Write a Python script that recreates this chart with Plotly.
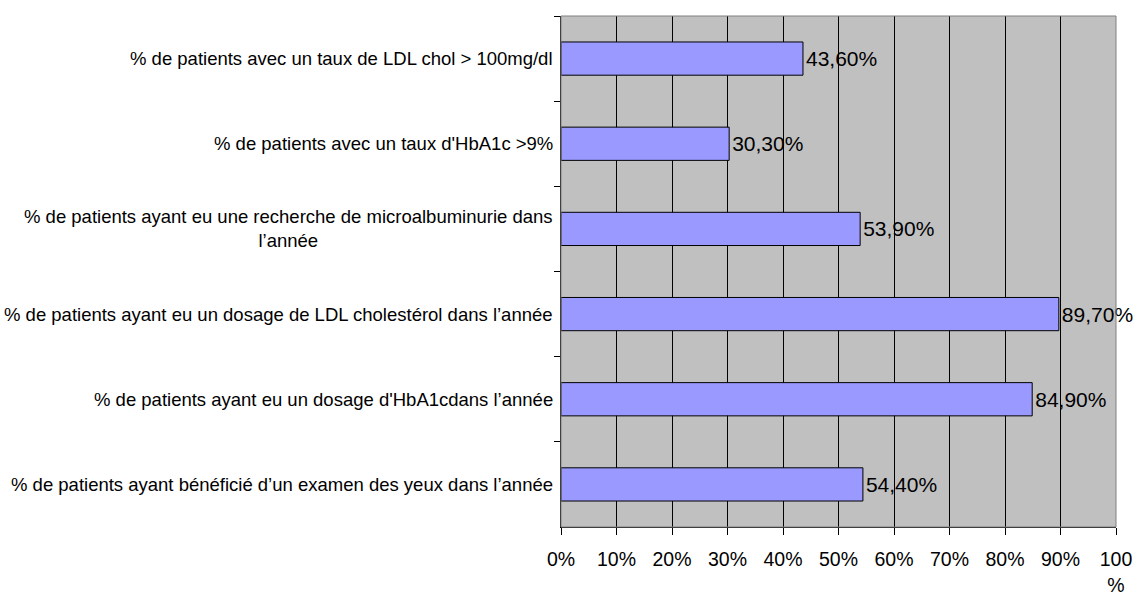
import plotly.graph_objects as go

# Indicators, listed top to bottom
categories = [
    "% de patients avec un taux de LDL chol > 100mg/dl",
    "% de patients avec un taux d'HbA1c >9%",
    "% de patients ayant eu une recherche de microalbuminurie dans<br>l’année",
    "% de patients ayant eu un dosage de LDL cholestérol dans l’année",
    "% de patients ayant eu un dosage d'HbA1cdans l’année",
    "% de patients ayant bénéficié d’un examen des yeux dans l’année",
]
values = [43.6, 30.3, 53.9, 89.7, 84.9, 54.4]
value_labels = [f"{v:.2f}%".replace(".", ",") for v in values]

tick_values = [0, 10, 20, 30, 40, 50, 60, 70, 80, 90, 100]
tick_labels = ["0%", "10%", "20%", "30%", "40%", "50%", "60%", "70%", "80%", "90%", "100<br>%"]

FONT = "Liberation Sans, Arial, sans-serif"

fig = go.Figure(
    go.Bar(
        x=values,
        y=categories,
        orientation="h",
        marker=dict(color="#9999FF", line=dict(color="#000000", width=1)),
        text=value_labels,
        textposition="outside",
        constraintext="none",
        cliponaxis=False,
        textfont=dict(family=FONT, size=21, color="#000000"),
        hoverinfo="skip",
    )
)

# Category labels drawn as centred multi-line annotations left of the axis
for cat in categories:
    fig.add_annotation(
        x=0, xref="paper", y=cat, yref="y",
        text=cat, showarrow=False,
        xanchor="right", yanchor="middle", align="center",
        xshift=-6,
        font=dict(family=FONT, size=18.5, color="#000000"),
    )

# Grey frame on top/right of the plot area
fig.add_shape(
    type="rect", xref="paper", yref="paper", x0=0, x1=1, y0=0, y1=1,
    line=dict(color="#808080", width=1), fillcolor="rgba(0,0,0,0)", layer="above",
)

fig.update_layout(
    width=1139, height=593,
    margin=dict(l=561, r=23, t=16, b=66),
    paper_bgcolor="#FFFFFF",
    plot_bgcolor="#C0C0C0",
    bargap=0.61,
    showlegend=False,
    font=dict(family=FONT, color="#000000"),
)

fig.update_xaxes(
    range=[0, 100],
    tickvals=tick_values,
    ticktext=tick_labels,
    tickfont=dict(family=FONT, size=19.5, color="#000000"),
    showgrid=True, gridcolor="#000000", gridwidth=1,
    showline=True, linecolor="#000000", linewidth=1,
    ticks="outside", ticklen=7, tickcolor="#000000", tickwidth=1,
    ticklabelstandoff=8,
    zeroline=False,
    automargin=False,
    fixedrange=True,
)

fig.update_yaxes(
    type="category",
    autorange="reversed",
    showticklabels=False,
    tickson="boundaries",
    ticks="outside", ticklen=6, tickcolor="#000000", tickwidth=1,
    showgrid=False,
    showline=True, linecolor="#000000", linewidth=1,
    zeroline=False,
    automargin=False,
    fixedrange=True,
)

fig.write_html("out.html")
